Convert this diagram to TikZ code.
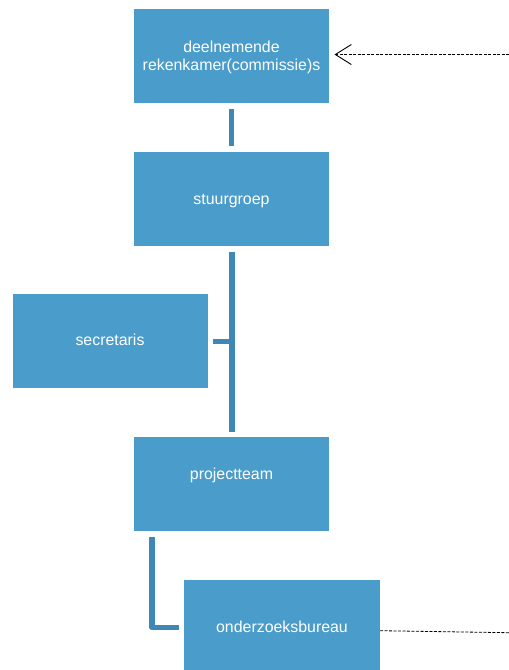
\documentclass[tikz,border=0pt]{standalone}
\usepackage{fontspec}
\setmainfont{Liberation Sans}
\usetikzlibrary{arrows.meta}
\definecolor{boxblue}{HTML}{4A9CCA}
\definecolor{lineblue}{HTML}{3E88B5}
\begin{document}
\begin{tikzpicture}[x=1pt,y=-1pt,
  box/.style={fill=boxblue,draw=none,minimum width=195pt,minimum height=94pt,inner sep=0pt,
    text=white,align=center,font=\fontsize{15.9}{18.5}\selectfont},
  conn/.style={draw=lineblue,line width=5.5pt},
  dashline/.style={draw=black,line width=0.8pt,dash pattern=on 3pt off 1.5pt}]
\useasboundingbox (0,0) rectangle (509,670);
\node[box] (rk) at (231.5,56) {\raisebox{-6pt}[0pt][0pt]{\begin{tabular}{@{}c@{}}deelnemende\\rekenkamer(commissie)s\end{tabular}}};
\node[box,text height=11pt,text depth=0pt] (sg) at (231.5,198.5) {stuurgroep};
\node[box,text height=8.6pt,text depth=0pt] (sec) at (110,341) {secretaris};
\node[box,text height=0pt,text depth=10pt] (pt) at (231.5,484) {projectteam};
\node[box,minimum width=196pt,minimum height=100pt,text height=5.4pt,text depth=0pt] (ob) at (282,630) {onderzoeksbureau};
\coordinate (a1) at (231.5,109);
\coordinate (a2) at (231.5,146);
\draw[conn] (a1) -- (a2);
\coordinate (b1) at (232,252);
\coordinate (b2) at (232,432);
\coordinate (bj) at (232,341.5);
\coordinate (bs) at (213,341.5);
\draw[conn] (b1) -- (b2);
\draw[conn] (bs) -- (bj);
\coordinate (c1) at (152,537);
\coordinate (c2) at (152,627.5);
\coordinate (c3) at (179,627.5);
\draw[conn,line join=round] (c1) -- (c2) -- (c3);
\coordinate (tr) at (509,54.5);
\coordinate (tl) at (334.5,54.5);
\draw[dashline,-{Straight Barb[length=16pt,width=20pt,line width=0.9pt]}] (tr) -- (tl);
\coordinate (dl) at (380,630.7);
\coordinate (dr) at (509,632.7);
\draw[dashline] (dl) -- (dr);
\end{tikzpicture}
\end{document}
